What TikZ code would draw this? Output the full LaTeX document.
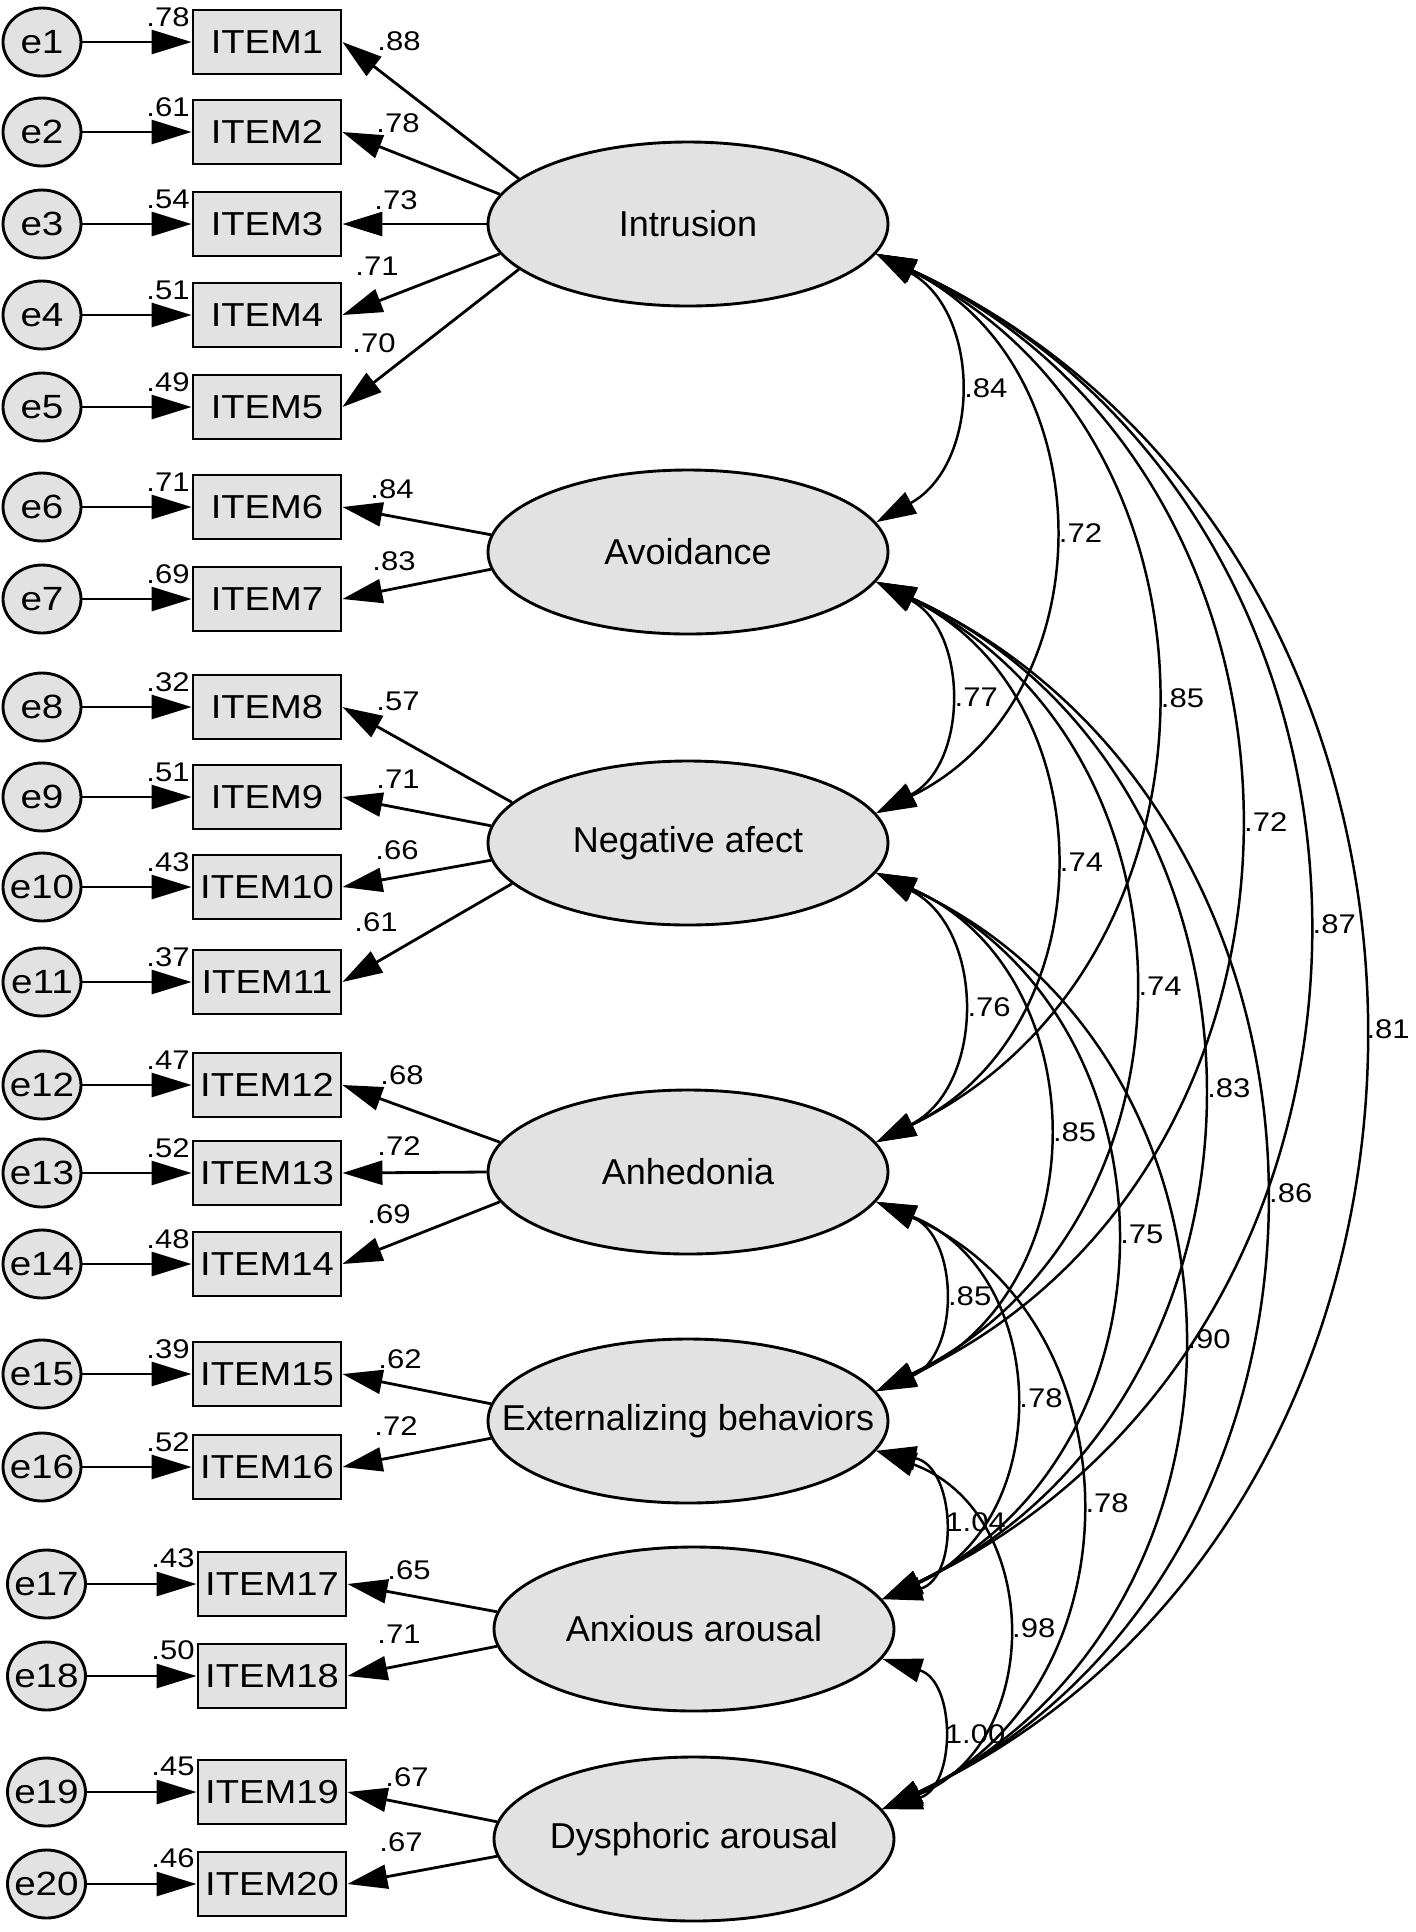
\documentclass[tikz,border=0pt]{standalone}
\usepackage{fontspec}
\setmainfont{Liberation Sans}
\newfontfamily\widefont{Liberation Sans}[FakeStretch=1.15]
\usetikzlibrary{arrows.meta,shapes.geometric}
\definecolor{fillg}{RGB}{226,226,226}
\newcommand\zb[1]{\makebox[0pt]{#1}}
\begin{document}
\begin{tikzpicture}[x=0.25pt,y=0.25pt]
\tikzset{
  lat/.style={ellipse, draw, line width=0.72pt, fill=fillg, minimum width=100pt, minimum height=41pt, inner sep=0pt, font=\fontsize{9}{10}\selectfont},
  itm/.style={rectangle, draw, line width=0.72pt, fill=fillg, minimum width=37pt, minimum height=16pt, inner sep=0pt, font=\widefont\fontsize{8.3}{9}\selectfont},
  err/.style={ellipse, draw, line width=0.72pt, fill=fillg, minimum width=19.5pt, minimum height=17pt, inner sep=0pt, font=\widefont\fontsize{8.4}{9}\selectfont},
  num/.style={font=\widefont\fontsize{6.75}{7.5}\selectfont, inner sep=0pt},
  cl/.style={num, anchor=west, xshift=2pt},
  arr/.style={line width=0.7pt, -{Triangle[length=10pt,width=6pt]}},
  covs/.style={line width=0.62pt, {Triangle[length=10pt,width=6pt]}-{Triangle[length=10pt,width=6pt]}},
}
\useasboundingbox[fill=white] (0,0) rectangle (1416,-1932);

% latent variables
\node[lat] (Intr)  at (688,-224)  {\zb{Intrusion}};
\node[lat] (Avoid) at (688,-552)  {\zb{Avoidance}};
\node[lat] (Neg)   at (688,-843)  {\zb{Negative afect}};
\node[lat] (Anh)   at (688,-1172) {\zb{Anhedonia}};
\node[lat] (Ext)   at (688,-1421) {\zb{Externalizing behaviors}};
\node[lat] (Anx)   at (694,-1629) {\zb{Anxious arousal}};
\node[lat] (Dys)   at (694,-1839) {\zb{Dysphoric arousal}};

% errors and items, rows 1-16
\foreach \i/\y/\rv in {1/42/.78, 2/132/.61, 3/224/.54, 4/315/.51, 5/407/.49,
  6/507/.71, 7/599/.69, 8/707/.32, 9/797/.51, 10/887/.43, 11/982/.37,
  12/1085/.47, 13/1173/.52, 14/1264/.48, 15/1374/.39, 16/1467/.52}{
  \node[err] (e\i) at (42,-\y) {\zb{e\i}};
  \node[itm] (I\i) at (267,-\y) {ITEM\i};
  \draw[arr] (e\i) -- (I\i);
  \node[num] (r\i) at (168,-\y+25) {\rv};
}
% rows 17-20
\foreach \i/\y/\rv in {17/1584/.43, 18/1676/.50, 19/1792/.45, 20/1884/.46}{
  \node[err] (e\i) at (46.5,-\y) {\zb{e\i}};
  \node[itm] (I\i) at (272,-\y) {ITEM\i};
  \draw[arr] (e\i) -- (I\i);
  \node[num] (r\i) at (173,-\y+26) {\rv};
}

% loadings
\draw[arr] (Intr.165) -- (I1.east);
\draw[arr] (Intr.171) -- (I2.east);
\draw[arr] (Intr.180) -- (I3.east);
\draw[arr] (Intr.189) -- (I4.east);
\draw[arr] (Intr.195) -- (I5.east);
\draw[arr] (Avoid.175) -- (I6.east);
\draw[arr] (Avoid.185) -- (I7.east);
\draw[arr] (Neg.167) -- (I8.east);
\draw[arr] (Neg.175) -- (I9.east);
\draw[arr] (Neg.185) -- (I10.east);
\draw[arr] (Neg.193) -- (I11.east);
\draw[arr] (Anh.171) -- (I12.east);
\draw[arr] (Anh.180) -- (I13.east);
\draw[arr] (Anh.189) -- (I14.east);
\draw[arr] (Ext.175) -- (I15.east);
\draw[arr] (Ext.185) -- (I16.east);
\draw[arr] (Anx.175) -- (I17.east);
\draw[arr] (Anx.185) -- (I18.east);
\draw[arr] (Dys.175) -- (I19.east);
\draw[arr] (Dys.185) -- (I20.east);

% loading labels
\node[num] (l1)  at (399,-41)   {.88};
\node[num] (l2)  at (398,-123)  {.78};
\node[num] (l3)  at (396,-200)  {.73};
\node[num] (l4)  at (377,-266)  {.71};
\node[num] (l5)  at (374,-343)  {.70};
\node[num] (l6)  at (392,-489)  {.84};
\node[num] (l7)  at (394,-561)  {.83};
\node[num] (l8)  at (398,-701)  {.57};
\node[num] (l9)  at (398,-779)  {.71};
\node[num] (l10) at (397,-850)  {.66};
\node[num] (l11) at (376,-922)  {.61};
\node[num] (l12) at (402,-1075) {.68};
\node[num] (l13) at (399,-1146) {.72};
\node[num] (l14) at (389,-1214) {.69};
\node[num] (l15) at (400,-1359) {.62};
\node[num] (l16) at (396,-1426) {.72};
\node[num] (l17) at (409,-1570) {.65};
\node[num] (l18) at (399,-1634) {.71};
\node[num] (l19) at (407,-1777) {.67};
\node[num] (l20) at (401,-1842) {.67};

% covariances
\draw[covs] (Intr.-9) to[bend left=61, looseness=1.15] node[cl] (c12) {.84} (Avoid.9);
\draw[covs] (Intr.-9) to[bend left=64, looseness=1.18] node[cl] (c13) {.72} (Neg.9);
\draw[covs] (Intr.-9) to[bend left=64, looseness=1.18] node[cl] (c14) {.85} (Anh.9);
\draw[covs] (Intr.-9) to[bend left=65, looseness=1.19] node[cl] (c15) {.72} (Ext.9);
\draw[covs] (Intr.-9) to[bend left=65, looseness=1.185] node[cl] (c16) {.87} (Anx.9);
\draw[covs] (Intr.-9) to[bend left=65, looseness=1.16] node[cl, xshift=-0.5pt] (c17) {.81} (Dys.9);
\draw[covs] (Avoid.-9) to[bend left=62, looseness=1.16] node[cl] (c23) {.77} (Neg.9);
\draw[covs] (Avoid.-9) to[bend left=64, looseness=1.185] node[cl] (c24) {.74} (Anh.9);
\draw[covs] (Avoid.-9) to[bend left=64, looseness=1.19] node[cl] (c25) {.74} (Ext.9);
\draw[covs] (Avoid.-9) to[bend left=65, looseness=1.178] node[cl] (c26) {.83} (Anx.9);
\draw[covs] (Avoid.-9) to[bend left=65, looseness=1.166] node[cl] (c27) {.86} (Dys.9);
\draw[covs] (Neg.-9) to[bend left=63, looseness=1.17] node[cl] (c34) {.76} (Anh.9);
\draw[covs] (Neg.-9) to[bend left=66, looseness=1.21] node[cl] (c35) {.85} (Ext.9);
\draw[covs] (Neg.-9) to[bend left=65, looseness=1.2] node[cl] (c36) {.75} (Anx.9);
\draw[covs] (Neg.-9) to[bend left=65, looseness=1.2] node[cl] (c37) {.90} (Dys.9);
\draw[covs] (Anh.-9) to[bend left=67, looseness=1.23] node[cl] (c45) {.85} (Ext.9);
\draw[covs] (Anh.-9) to[bend left=67, looseness=1.22] node[cl] (c46) {.78} (Anx.9);
\draw[covs] (Anh.-9) to[bend left=66, looseness=1.21] node[cl] (c47) {.78} (Dys.9);
\draw[covs] (Ext.-9) to[bend left=77, looseness=1.39] node[cl, xshift=-0.5pt] (c56) {1.04} (Anx.9);
\draw[covs] (Ext.-9) to[bend left=69, looseness=1.26] node[cl] (c57) {.98} (Dys.9);
\draw[covs] (Anx.-9) to[bend left=73, looseness=1.32] node[cl, xshift=-0.5pt] (c67) {1.00} (Dys.9);
\end{tikzpicture}
\end{document}
